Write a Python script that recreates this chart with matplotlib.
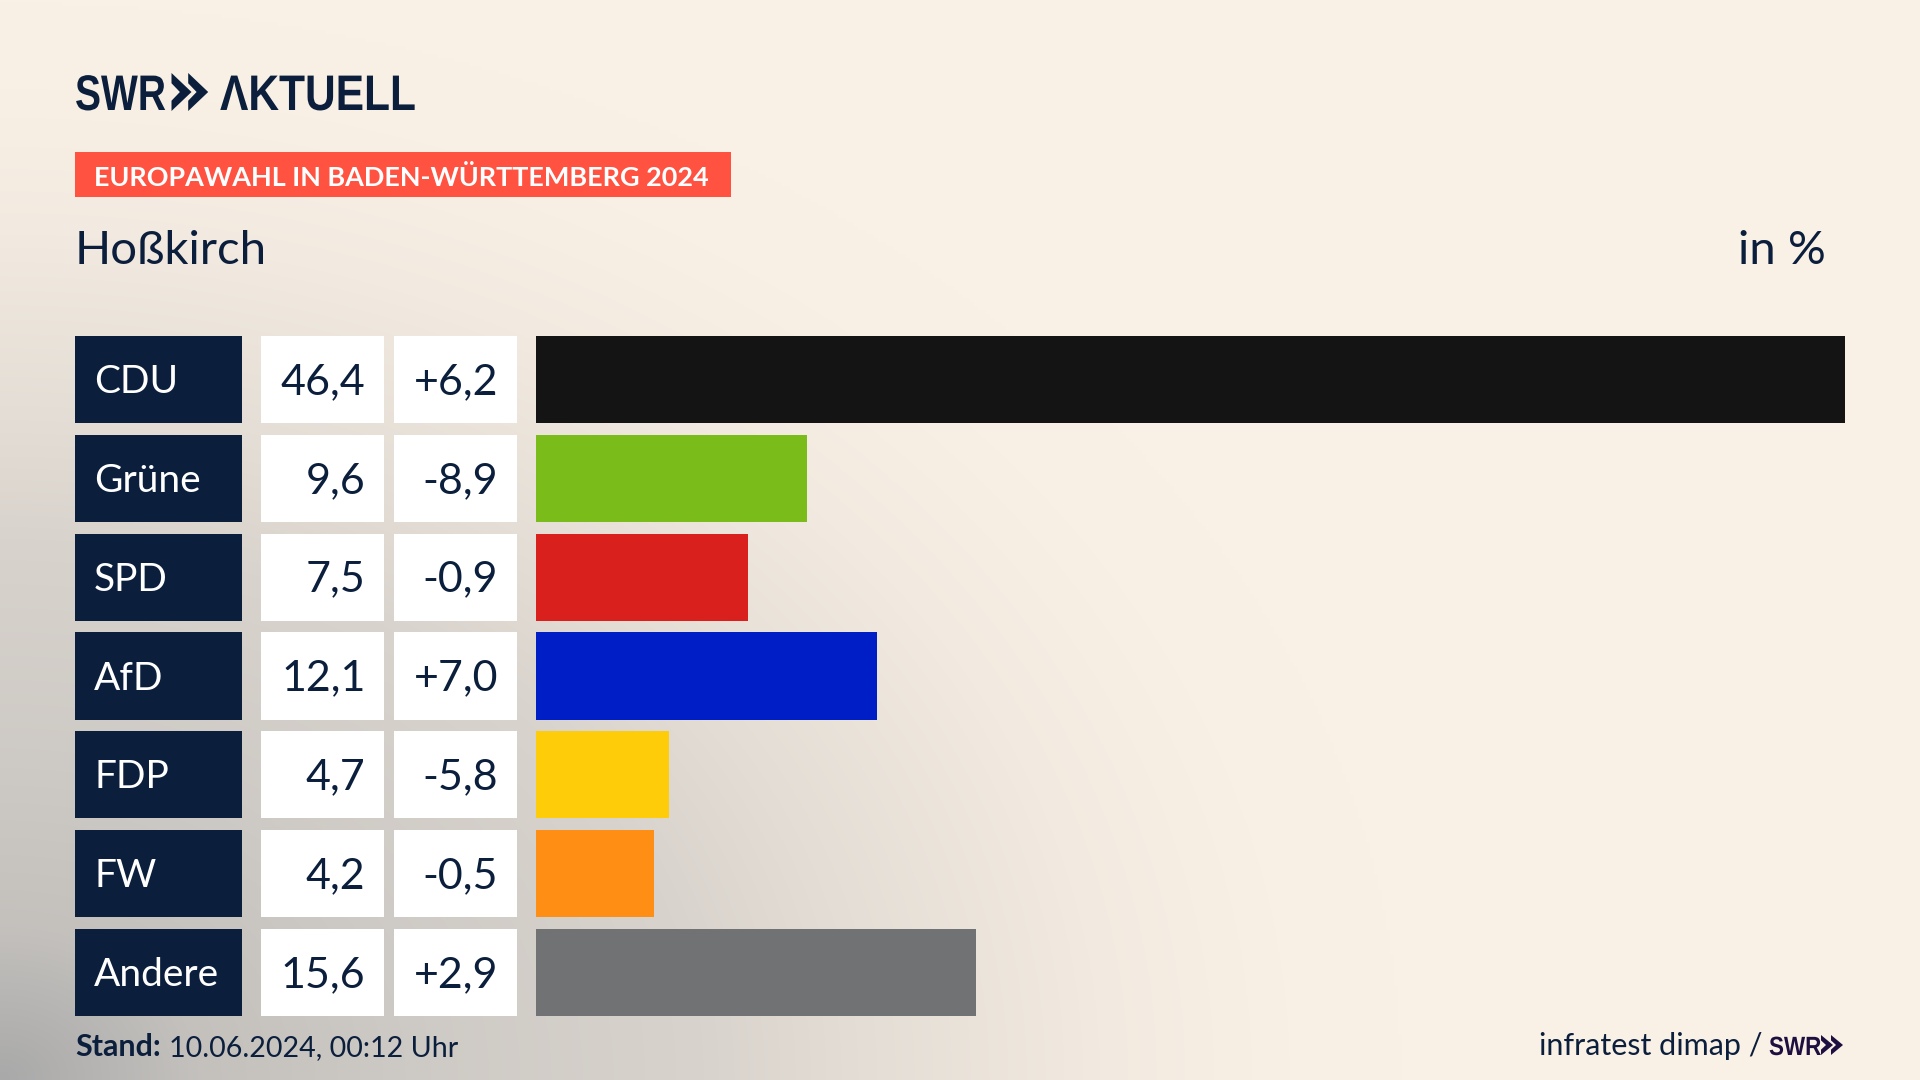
import numpy as np
import matplotlib
matplotlib.use("Agg")
import matplotlib.pyplot as plt
from matplotlib.patches import Rectangle, Polygon
from matplotlib.patheffects import AbstractPathEffect
from matplotlib.transforms import Affine2D

parties = ["CDU", "Grüne", "SPD", "AfD", "FDP", "FW", "Andere"]
shares = [46.4, 9.6, 7.5, 12.1, 4.7, 4.2, 15.6]
share_labels = ["46,4", "9,6", "7,5", "12,1", "4,7", "4,2", "15,6"]
change_labels = ["+6,2", "-8,9", "-0,9", "+7,0", "-5,8", "-0,5", "+2,9"]
colors = ["#141414", "#7abd1a", "#d9201c", "#001ec6", "#ffcc0a", "#ff8f14", "#717274"]

navy = "#0b1f3d"
W, H = 1920, 1080
plt.rcParams["font.family"] = ["Lato", "DejaVu Sans"]

fig = plt.figure(figsize=(19.2, 10.8), dpi=100)

# overlay in pixel coordinates for the background and the table cells
bg = fig.add_axes([0, 0, 1, 1])
bg.set_xlim(0, W)
bg.set_ylim(H, 0)
bg.axis("off")

# background: cream with grey haze from the bottom left corner
yy, xx = np.mgrid[0:H:270j, 0:W:480j]
d = np.sqrt(xx ** 2 + (1.3 * (H - yy)) ** 2)
red = np.interp(d, [0, 200, 450, 700, 850, 1100, 1300, 1400], [169, 196, 207, 216, 227, 242, 249, 250])
t = (250 - red) / (250 - 169)
cream = np.array([250, 241, 230]) / 255
grey = np.array([169, 169, 169]) / 255
img = cream[None, None, :] * (1 - t[..., None]) + grey[None, None, :] * t[..., None]
bg.imshow(img, extent=[0, W, H, 0], aspect="auto", interpolation="bilinear", zorder=0)
bg.set_xlim(0, W)
bg.set_ylim(H, 0)


class Squeeze(AbstractPathEffect):
    # narrows a text around its left edge, there is no condensed font here
    def __init__(self, x_px, factor):
        super().__init__()
        self.x_px = x_px
        self.factor = factor

    def draw_path(self, renderer, gc, tpath, affine, rgbFace=None):
        squeeze = Affine2D().translate(-self.x_px, 0).scale(self.factor, 1).translate(self.x_px, 0)
        renderer.draw_path(gc, tpath, affine + squeeze, rgbFace)


def chevrons(x, top, bottom, w, gap, color):
    # the two arrow heads of the logo
    mid = (top + bottom) / 2
    notch = 0.27 * (bottom - top)
    for k in range(2):
        x0 = x + k * gap
        bg.add_patch(Polygon([(x0, top), (x0 + w, mid), (x0, bottom), (x0, bottom - notch),
                              (x0 + 0.42 * w, mid), (x0, top + notch)],
                             closed=True, color=color, lw=0, zorder=3))


# logo
logo_font = ["Liberation Sans", "DejaVu Sans"]
bg.text(75, 110, "SWR", family=logo_font, weight="bold", fontsize=36, color=navy, va="baseline",
        path_effects=[Squeeze(75, 0.78)])
chevrons(171.5, 73, 111, 20, 16.7, navy)
bg.text(220, 110, "ΛKTUELL", family=logo_font, weight="bold", fontsize=36, color=navy, va="baseline",
        path_effects=[Squeeze(220, 0.85)])

# heading
bg.add_patch(Rectangle((75, 152), 656, 45, color="#ff5240", lw=0, zorder=2))
bg.text(94, 175, "EUROPAWAHL IN BADEN-WÜRTTEMBERG 2024", fontsize=19.45, weight="bold",
        color="white", va="center_baseline", zorder=3)
bg.text(75, 247, "Hoßkirch", fontsize=34, color=navy, va="center_baseline")
bg.text(1826, 247, "in %", fontsize=34, color=navy, ha="right", va="center_baseline")

# table cells
row_top = 336
row_h = 87.2
pitch = 98.8
for i, party in enumerate(parties):
    top = row_top + i * pitch
    mid = top + row_h / 2 - 1
    bg.add_patch(Rectangle((75, top), 167, row_h, color=navy, lw=0, zorder=2))
    bg.add_patch(Rectangle((261, top), 123, row_h, color="white", lw=0, zorder=2))
    bg.add_patch(Rectangle((394, top), 123, row_h, color="white", lw=0, zorder=2))
    bg.text(94, mid, party, fontsize=28, color="white", va="center_baseline", zorder=3)
    bg.text(365.5, mid, share_labels[i], fontsize=31, color=navy, ha="right", va="center_baseline", zorder=3)
    bg.text(498, mid, change_labels[i], fontsize=31, color=navy, ha="right", va="center_baseline", zorder=3)

# bars
ax_top = row_top
ax_bottom = row_top + 6 * pitch + row_h
ax = fig.add_axes([536 / W, 1 - ax_bottom / H, (1845 - 536) / W, (ax_bottom - ax_top) / H])
ax.patch.set_alpha(0)
h = row_h / pitch
ax.barh(range(len(parties)), shares, height=h, color=colors)
ax.set_xlim(0, max(shares))
ax.set_ylim(6 + h / 2, -h / 2)
ax.axis("off")

# footer
bg.text(75, 1056, "Stand:", fontsize=22, weight="bold", color=navy, va="baseline")
bg.text(169, 1056, "10.06.2024, 00:12 Uhr", fontsize=20.6, color=navy, va="baseline")
bg.text(1539, 1055, "infratest dimap /", fontsize=22, color=navy, va="baseline")
bg.text(1769, 1055, "SWR", family=logo_font, weight="bold", fontsize=19, color="#1d0f3f", va="baseline",
        path_effects=[Squeeze(1769, 0.85)])
chevrons(1821, 1035, 1055, 12, 10, "#1d0f3f")

fig.savefig("out.png", dpi=100)
